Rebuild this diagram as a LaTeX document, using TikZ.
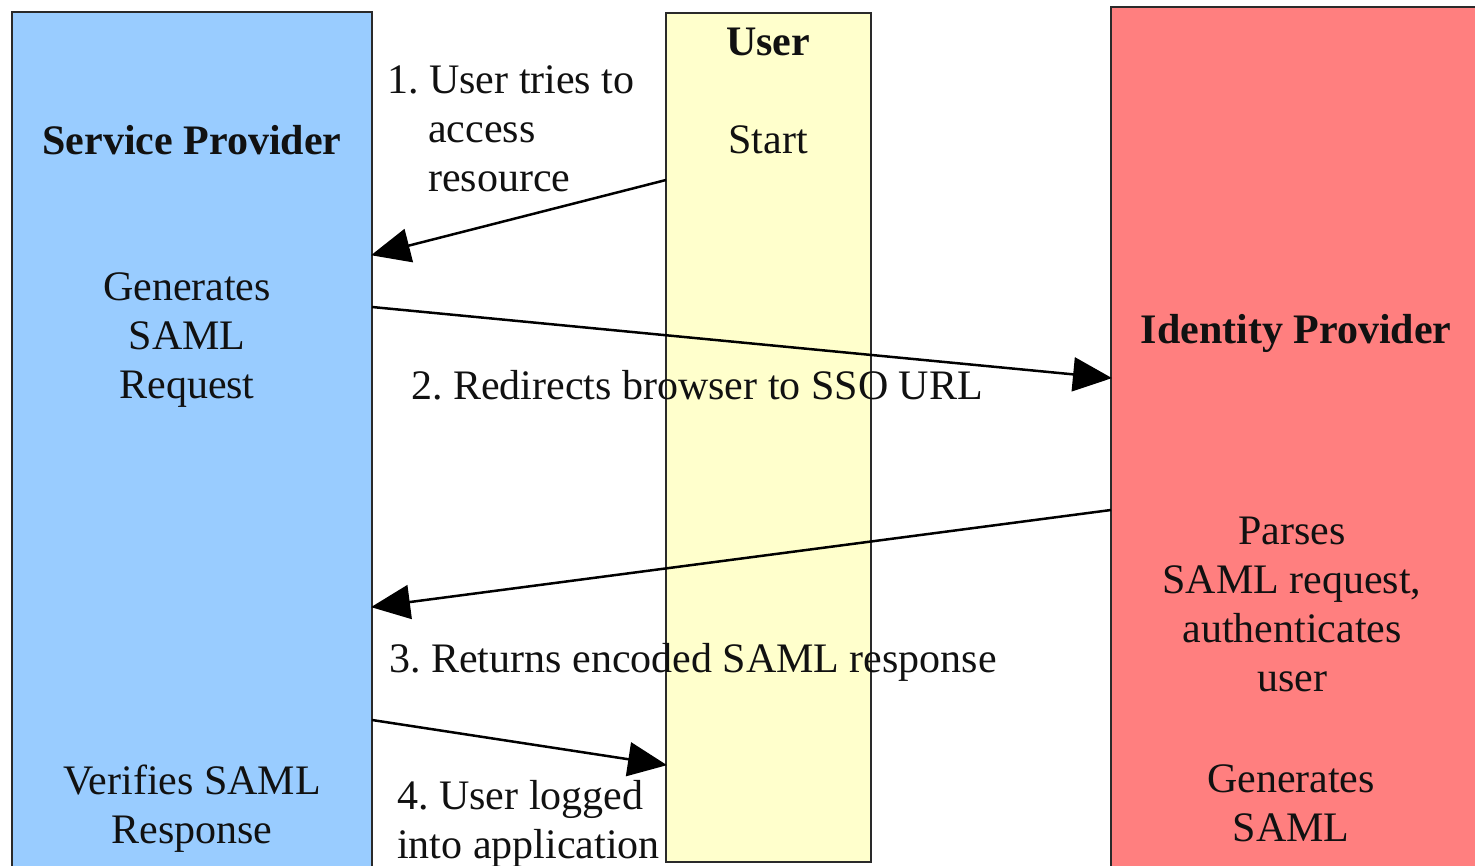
\documentclass[tikz,border=0pt]{standalone}
\usepackage{fontspec}
\setmainfont{Liberation Serif}
\usetikzlibrary{arrows.meta}
\frenchspacing
\definecolor{spblue}{HTML}{99CCFF}
\definecolor{useryellow}{HTML}{FFFFCC}
\definecolor{idpred}{HTML}{FF7F7F}
\definecolor{edge}{HTML}{2A2A2A}
\definecolor{txt}{HTML}{111111}
\begin{document}
\begin{tikzpicture}[x=1pt,y=-1pt,
  lane/.style={draw=edge, line width=2pt, inner sep=0pt, outer sep=0pt, anchor=north west},
  lbl/.style={inner sep=0pt, text=txt, font=\fontsize{42}{49}\selectfont},
  hdr/.style={lbl, font=\fontsize{42}{49}\selectfont\bfseries},
  flow/.style={draw=black, line width=2.5pt, -{Triangle[length=39pt,width=34pt]}, shorten >=-1pt}]
\useasboundingbox (0,0) rectangle (1475,866);
\fill[white] (0,0) rectangle (1475,866);
% lanes
\node[lane, fill=spblue, minimum width=360pt, minimum height=870pt] (sp) at (12,12) {};
\node[lane, fill=useryellow, minimum width=205pt, minimum height=849pt] (user) at (666,13) {};
\node[lane, fill=idpred, minimum width=380pt, minimum height=875pt] (idp) at (1111,7) {};
% lane texts
\node[hdr] (userh) at (768,42) {User};
\node[lbl] (start) at (768,140) {Start};
\node[hdr] (sph) at (192,140) {Service Provider};
\node[lbl, align=center] (gen) at (187,340) {Generates\\SAML\\Request};
\node[lbl, align=center] (ver) at (192,809) {Verifies SAML\\Response};
\node[lbl, align=center] (idph) at (1296,333) {\bfseries Identity Provider};
\node[lbl, align=center] (parse) at (1292,604) {Parses\\SAML request,\\authenticates\\user};
\node[lbl, align=center] (gen2) at (1291,803) {Generates\\SAML};
% step labels
\node[lbl, align=left, anchor=north west] (s1) at (387,65) {1. User tries to\\\hspace*{41pt}access\\\hspace*{41pt}resource};
\node[lbl, anchor=west] (s2) at (411,385) {2. Redirects browser to SSO URL};
\node[lbl, anchor=west] (s3) at (389,662) {3. Returns encoded SAML response};
\node[lbl, align=left, anchor=north west] (s4) at (397,780) {4. User logged\\into application};
% connector end points on lane borders
\coordinate (a1s) at (user.west |- 0,180);
\coordinate (a1e) at (sp.east |- 0,255);
\coordinate (a2s) at (sp.east |- 0,307);
\coordinate (a2e) at (idp.west |- 0,378);
\coordinate (a3s) at (idp.west |- 0,510);
\coordinate (a3e) at (sp.east |- 0,607);
\coordinate (a4s) at (sp.east |- 0,720);
\coordinate (a4e) at (user.west |- 0,765);
\draw[flow] (a1s) -- (a1e);
\draw[flow] (a2s) -- (a2e);
\draw[flow] (a3s) -- (a3e);
\draw[flow] (a4s) -- (a4e);
\end{tikzpicture}
\end{document}
